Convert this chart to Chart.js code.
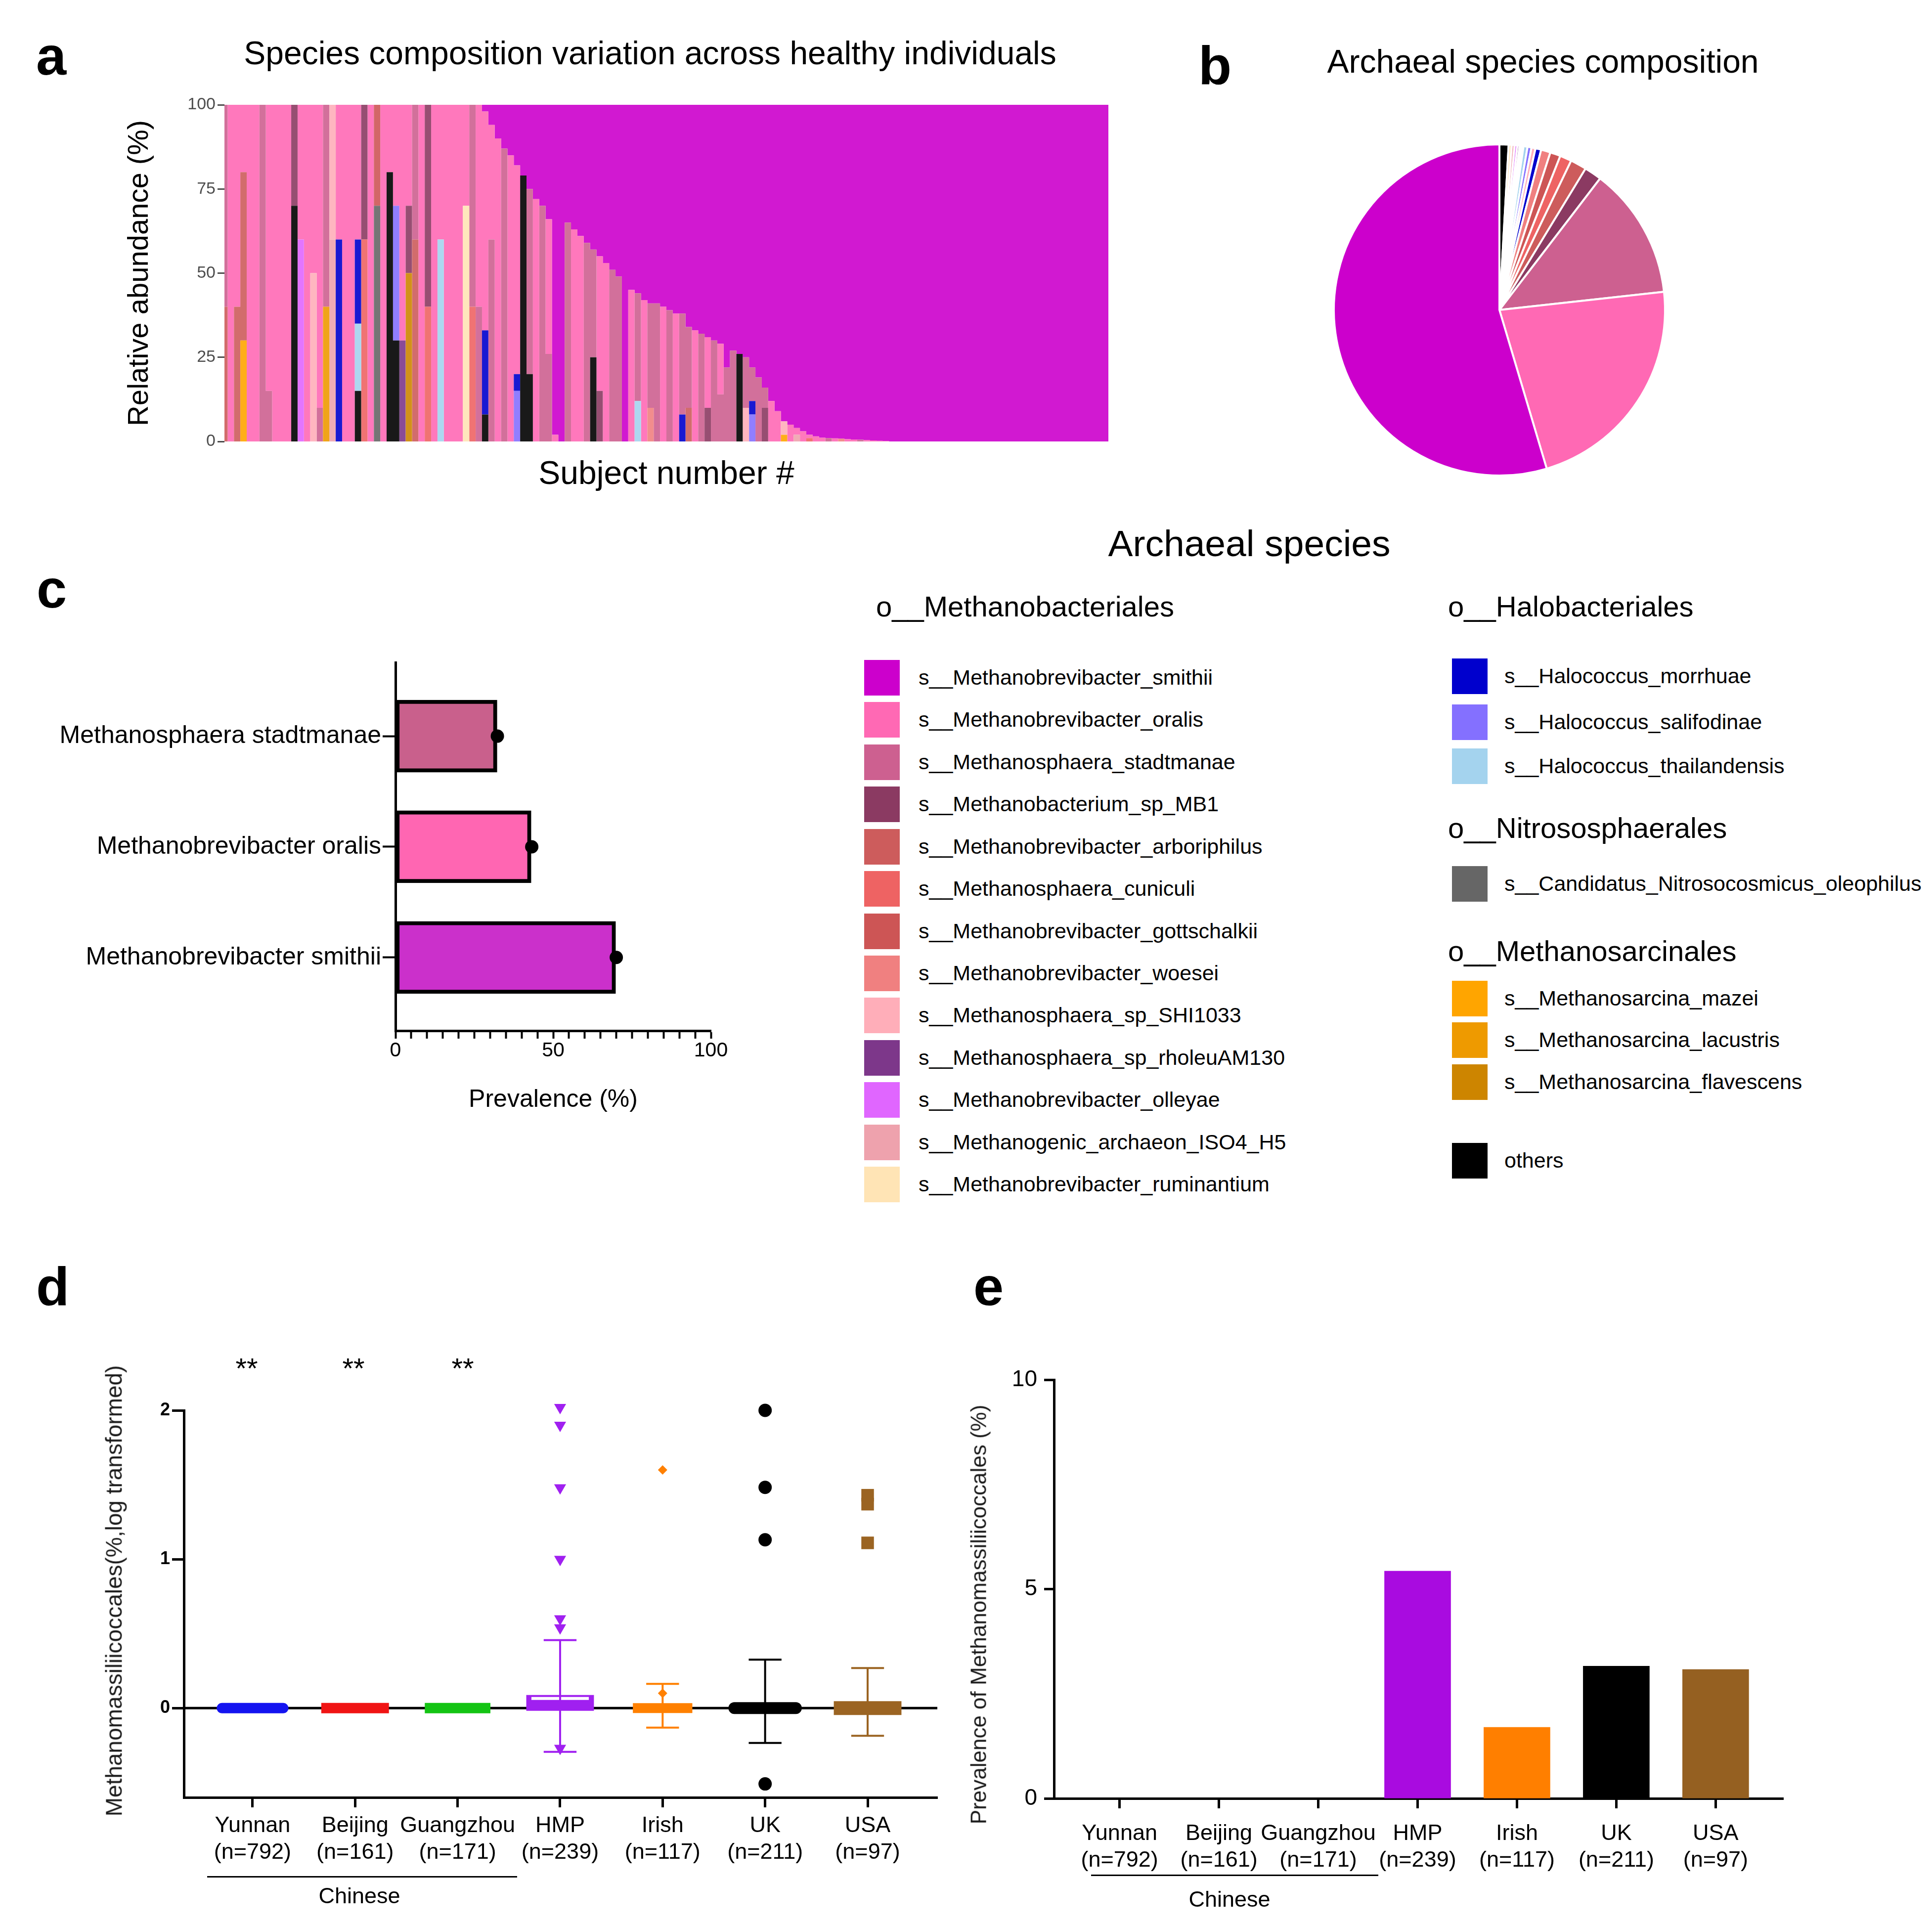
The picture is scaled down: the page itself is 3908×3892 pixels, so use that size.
<!DOCTYPE html>
<html><head><meta charset="utf-8">
<script src="https://cdn.jsdelivr.net/npm/chart.js@4.4.1/dist/chart.umd.min.js"></script>
<style>
html,body{margin:0;padding:0;background:#fff;}
#page{position:relative;width:3908px;height:3892px;overflow:hidden;font-family:'Liberation Sans',Arial,Helvetica,sans-serif;color:#000;background:#fff;}
#page canvas{position:absolute;}
.t{position:absolute;white-space:nowrap;line-height:1.2;}
.sw{position:absolute;}
.ln{position:absolute;background:#000;}
</style></head><body><div id="page">
<canvas id="ca" width="2300" height="1050" style="left:0px;top:0px;width:2300px;height:1050px"></canvas>
<canvas id="cb" width="770" height="770" style="left:2648px;top:242px;width:770px;height:770px"></canvas>
<canvas id="cc" width="1700" height="1250" style="left:0px;top:1100px;width:1700px;height:1250px"></canvas>
<canvas id="cd" width="1950" height="1292" style="left:0px;top:2600px;width:1950px;height:1292px"></canvas>
<canvas id="ce" width="1958" height="1292" style="left:1950px;top:2600px;width:1958px;height:1292px"></canvas>
</div>
<script>
// ---------------- DATA ----------------
// legend species (order as in legend) and their colours
const speciesNames = [
  's__Methanobrevibacter_smithii','s__Methanobrevibacter_oralis','s__Methanosphaera_stadtmanae',
  's__Methanobacterium_sp_MB1','s__Methanobrevibacter_arboriphilus','s__Methanosphaera_cuniculi',
  's__Methanobrevibacter_gottschalkii','s__Methanobrevibacter_woesei','s__Methanosphaera_sp_SHI1033',
  's__Methanosphaera_sp_rholeuAM130','s__Methanobrevibacter_olleyae','s__Methanogenic_archaeon_ISO4_H5',
  's__Methanobrevibacter_ruminantium',
  's__Halococcus_morrhuae','s__Halococcus_salifodinae','s__Halococcus_thailandensis',
  's__Candidatus_Nitrosocosmicus_oleophilus',
  's__Methanosarcina_mazei','s__Methanosarcina_lacustris','s__Methanosarcina_flavescens',
  'others'
];
const speciesColors = [
  '#CC00CC','#FF69B4','#CD6090','#8B3A62','#CD5C5C','#EE6363','#CD5555','#F08080','#FFAEB9',
  '#7D378A','#E066FF','#EEA2AD','#FFE4B5',
  '#0000CD','#8470FF','#A4D3EE',
  '#666666',
  '#FFA500','#EE9A00','#CD8500',
  '#000000'
];
const orderHeaders = ['o__Methanobacteriales','o__Halobacteriales','o__Nitrososphaerales','o__Methanosarcinales'];

// panel a : relative abundance (%) per subject (140 subjects, sorted)
const smithiiAbund = [
  0,0,0,0,0,0,0,0,0,0, 0,0,0,0,0,0,0,0,0,0, 0,0,0,0,0,0,0,0,0,0, 0,0,0,0,0,0,0,0,0,0,
  0,2,6,10,13,15,18,21,25,28, 30,34,98,100,35,37,39,41,43,45, 47,49,51,100,55,56,58,59,59,60,
  61,62,62,66,67,68,69,70,71,78, 73,74,75,78,81,84,88,91,94,95, 96,97,98,98.5,98.9,99,99.1,99.2,99.3,99.4,
  99.5,99.6,99.7,99.8,99.9,100,100,100,100,100, 100,100,100,100,100,100,100,100,100,100,
  100,100,100,100,100,100,100,100,100,100, 100,100,100,100,100,100,100,100,100,100
];
const oralisAbund = [
  0,100,60,20,100,100,0,85,100,100, 100,0,40,100,50,90,0,0,40,100,
  100,40,0,100,0,100,20,30,70,30, 0,100,0,100,40,100,100,100,30,0,
  60,65,34,90,0,85,62,0,0,72, 0,40,2,0,0,63,61,0,0,40,
  53,0,0,0,45,0,42,0,0,40, 0,38,0,0,33,0,21,0,15,0,
  0,0,0,0,0,0,12,9,0,5, 2,3,1,1.5,1.1,0,0.9,0,0.7,0.6,
  0,0.4,0.3,0.2,0.1,0,0,0,0,0, 0,0,0,0,0,0,0,0,0,0,
  0,0,0,0,0,0,0,0,0,0, 0,0,0,0,0,0,0,0,0,0
];
const stadtmanaeAbund = [
  60,0,0,0,0,0,100,15,0,0, 0,0,0,0,0,10,60,0,0,0,
  0,0,0,0,0,0,0,0,0,0, 40,0,0,0,0,0,0,0,0,60,
  40,0,60,0,87,0,0,0,55,0, 70,26,0,0,65,0,0,59,32,0,
  0,51,49,0,0,32,0,31,41,0, 39,0,30,24,0,32,0,30,14,22,
  27,0,15,10,19,6,0,0,0,0, 0,0,0,0,0,1,0,0,0,0,
  0.5,0,0,0,0,0,0,0,0,0, 0,0,0,0,0,0,0,0,0,0,
  0,0,0,0,0,0,0,0,0,0, 0,0,0,0,0,0,0,0,0,0
];
// minor species: [subject index, abundance %]
const othersPts = [[11,70],[21,15],[26,80],[27,30],[41,8],[47,79],[48,20],[58,25],[81,26]];
const mb1Pts = [[11,30],[22,40],[29,20],[32,60],[59,15],[76,10],[85,10]];
const arboriphilusPts = [[0,40],[2,40],[3,50],[30,60],[73,10]];
const cuniculiPts = [[22,60],[32,40],[39,40],[92,1]];
const gottschalkiiPts = [[24,30]];
const woeseiPts = [[67,10],[97,0.8]];
const shi1033Pts = [[14,50],[17,40],[82,10],[88,4]];
const rholeuPts = [[28,30]];
const olleyaePts = [[12,60]];
const iso4Pts = [[17,60],[90,2]];
const ruminantiumPts = [[38,70]];
const morrhuaePts = [[18,60],[21,25],[41,25],[46,5],[72,8],[83,4]];
const salifodinaePts = [[27,40],[46,15],[83,8]];
const thailandensisPts = [[21,20],[34,60],[65,12]];
const nitrosoPts = [[24,70]];
const mazeiPts = [[3,30],[88,2]];
const lacustrisPts = [[16,40]];
const flavescensPts = [[29,50]];
const aTicks = [0,25,50,75,100];

// panel b : pie (%), clockwise from 12 o'clock
const pieSpecies = ['others','s__Methanobrevibacter_ruminantium','s__Methanogenic_archaeon_ISO4_H5',
  's__Methanobrevibacter_olleyae','s__Methanosphaera_sp_rholeuAM130','s__Candidatus_Nitrosocosmicus_oleophilus',
  's__Methanosarcina_flavescens','s__Methanosarcina_lacustris','s__Methanosarcina_mazei',
  's__Halococcus_thailandensis','s__Halococcus_salifodinae','s__Methanosphaera_sp_SHI1033',
  's__Halococcus_morrhuae','s__Methanobrevibacter_woesei','s__Methanobrevibacter_gottschalkii',
  's__Methanosphaera_cuniculi','s__Methanobrevibacter_arboriphilus','s__Methanobacterium_sp_MB1',
  's__Methanosphaera_stadtmanae','s__Methanobrevibacter_oralis','s__Methanobrevibacter_smithii'];
const pieValues = [0.89,0.30,0.28,0.26,0.22,0.18,0.10,0.05,0.05,0.39,0.39,0.39,0.56,0.92,1.01,1.14,1.58,1.69,12.85,22.14,54.61];

// panel c : prevalence (%)
const cSpecies = ['Methanobrevibacter smithii','Methanobrevibacter oralis','Methanosphaera stadtmanae'];
const cPrevalence = [69.8, 43, 32.2];
const cPoints = [70, 43.2, 32.3];
const cColors = ['#CB30CB','#FF66B2','#C9608C'];

// panel d : log-transformed abundance
const cohorts = ['Yunnan','Beijing','Guangzhou','HMP','Irish','UK','USA'];
const cohortN = [792,161,171,239,117,211,97];
const dMean = [0,0,0,0.065,0.016,0.01,0.01];
const dSdLow = [0,0,0,-0.294,-0.131,-0.234,-0.186];
const dSdHigh = [0,0,0,0.457,0.163,0.326,0.269];
const hmpPoints = [2.02,1.9,1.48,1.0,0.6,0.54,-0.27];
const irishPoints = [1.6,0.1];
const ukPoints = [2.0,1.483,1.131,-0.509];
const usaPoints = [1.43,1.37,1.11];
const dSignif = ['**','**','**'];

// panel e : prevalence of Methanomassiliicoccales (%)
const ePrevalence = [0,0,0,5.43,1.7,3.16,3.08];

// ---------------- STYLE / HELPERS ----------------
const FONT = "'Liberation Sans', Arial, Helvetica, sans-serif";
Chart.defaults.font.family = FONT;
Chart.defaults.color = '#000';
Chart.defaults.animation = false;
Chart.defaults.responsive = false;
Chart.defaults.plugins.legend.display = false;
Chart.defaults.plugins.tooltip.enabled = false;

const page = document.getElementById('page');
function addText(text, x, y, size, opts = {}) {
  const d = document.createElement('div');
  d.className = 't';
  d.textContent = text;
  d.style.left = x + 'px';
  d.style.top = y + 'px';
  d.style.fontSize = size + 'px';
  if (opts.bold) d.style.fontWeight = 'bold';
  if (opts.color) d.style.color = opts.color;
  d.style.transform = 'translate(' + (opts.align === 'left' ? '0' : '-50%') + ',-50%)' + (opts.rotate ? ' rotate(-90deg)' : '');
  page.appendChild(d);
}
function addBox(cls, x, y, w, h, color) {
  const d = document.createElement('div');
  d.className = cls;
  d.style.left = x + 'px'; d.style.top = y + 'px';
  d.style.width = w + 'px'; d.style.height = h + 'px';
  if (color) d.style.background = color;
  page.appendChild(d);
}
const colorOf = n => speciesColors[speciesNames.indexOf(n)];
function tint(hex, a) {
  const v = parseInt(hex.slice(1), 16);
  const r = (v >> 16) & 255, g = (v >> 8) & 255, b = v & 255;
  const m = c => Math.round(c * a + 255 * (1 - a));
  return 'rgb(' + m(r) + ',' + m(g) + ',' + m(b) + ')';
}
const N = smithiiAbund.length;
function expand(pts) { const arr = new Array(N).fill(0); pts.forEach(p => { arr[p[0]] = p[1]; }); return arr; }

// ---------------- PANEL A ----------------
const aStack = [
  ['others', expand(othersPts)],
  ['s__Methanosarcina_flavescens', expand(flavescensPts)],
  ['s__Methanosarcina_lacustris', expand(lacustrisPts)],
  ['s__Methanosarcina_mazei', expand(mazeiPts)],
  ['s__Candidatus_Nitrosocosmicus_oleophilus', expand(nitrosoPts)],
  ['s__Halococcus_thailandensis', expand(thailandensisPts)],
  ['s__Halococcus_salifodinae', expand(salifodinaePts)],
  ['s__Halococcus_morrhuae', expand(morrhuaePts)],
  ['s__Methanobrevibacter_ruminantium', expand(ruminantiumPts)],
  ['s__Methanogenic_archaeon_ISO4_H5', expand(iso4Pts)],
  ['s__Methanobrevibacter_olleyae', expand(olleyaePts)],
  ['s__Methanosphaera_sp_rholeuAM130', expand(rholeuPts)],
  ['s__Methanosphaera_sp_SHI1033', expand(shi1033Pts)],
  ['s__Methanobrevibacter_woesei', expand(woeseiPts)],
  ['s__Methanobrevibacter_gottschalkii', expand(gottschalkiiPts)],
  ['s__Methanosphaera_cuniculi', expand(cuniculiPts)],
  ['s__Methanobrevibacter_arboriphilus', expand(arboriphilusPts)],
  ['s__Methanobacterium_sp_MB1', expand(mb1Pts)],
  ['s__Methanosphaera_stadtmanae', stadtmanaeAbund],
  ['s__Methanobrevibacter_oralis', oralisAbund],
  ['s__Methanobrevibacter_smithii', smithiiAbund]
];
new Chart(document.getElementById('ca'), {
  type: 'line',
  data: {
    labels: smithiiAbund.map((_, i) => String(i + 1)),
    datasets: aStack.map((s, k) => ({
      label: s[0], data: s[1],
      backgroundColor: tint(colorOf(s[0]), 0.9),
      fill: k === 0 ? 'origin' : '-1',
      stepped: 'middle',
      borderWidth: 0, pointRadius: 0, tension: 0
    }))
  },
  options: {
    devicePixelRatio: 1,
    layout: { padding: { left: 248, right: 58, top: 212, bottom: 50 } },
    scales: {
      x: { type: 'category', offset: false, grid: { display: false }, border: { display: false },
           ticks: { display: false },
           title: { display: true, text: 'Subject number #', font: { size: 66 }, padding: 0, color: '#000' },
           afterFit: s => { s.height = 107; } },
      y: { stacked: true, min: 0, max: 100,
           afterBuildTicks: s => { s.ticks = aTicks.map(v => ({ value: v })); },
           ticks: { color: '#4D4D4D', font: { size: 34 }, padding: 4 },
           grid: { drawOnChartArea: false, tickLength: 14, tickColor: '#4D4D4D', tickWidth: 3 },
           border: { display: false },
           title: { display: true, text: 'Relative abundance (%)', font: { size: 58 }, padding: 0, color: '#000' },
           afterFit: s => { s.width = 206; } }
    }
  }
});

// ---------------- PANEL B ----------------
new Chart(document.getElementById('cb'), {
  type: 'pie',
  data: { labels: pieSpecies, datasets: [{ data: pieValues, backgroundColor: pieSpecies.map(colorOf), borderColor: '#ffffff', borderWidth: 4 }] },
  options: { devicePixelRatio: 1, layout: { padding: 48 } }
});

// ---------------- PANEL C ----------------
new Chart(document.getElementById('cc'), {
  type: 'bar',
  data: { datasets: [
    { type: 'bar', data: cPrevalence.map((v, i) => ({ x: v, y: i })), backgroundColor: cColors,
      borderColor: '#000', borderWidth: 8, borderSkipped: false, barThickness: 146, order: 2 },
    { type: 'scatter', data: cPoints.map((v, i) => ({ x: v, y: i })), backgroundColor: '#000',
      borderWidth: 0, pointRadius: 13.5, order: 1, clip: false }
  ] },
  options: {
    indexAxis: 'y', devicePixelRatio: 1,
    layout: { padding: { left: 0, right: 262, top: 240, bottom: 95 } },
    scales: {
      x: { type: 'linear', min: 0, max: 100, offset: false,
           ticks: { stepSize: 5, autoSkip: false, maxRotation: 0, font: { size: 41 }, padding: 0,
                    callback: v => (v % 50 === 0 ? String(v) : '') },
           grid: { drawOnChartArea: false, offset: false, tickLength: 16, tickColor: '#000', tickWidth: 4 },
           border: { color: '#000', width: 5 },
           title: { display: true, text: 'Prevalence (%)', font: { size: 50 }, padding: 0 },
           afterFit: s => { s.height = 170; } },
      y: { type: 'linear', min: -0.662, max: 2.666, offset: false,
           ticks: { stepSize: 1, includeBounds: false, autoSkip: false, font: { size: 50 }, padding: 3,
                    callback: v => (cSpecies[v] !== undefined ? cSpecies[v] : '') },
           grid: { drawOnChartArea: false, offset: false, tickLength: 26, tickColor: '#000', tickWidth: 4 },
           border: { color: '#000', width: 5 },
           afterFit: s => { s.width = 800; } }
    }
  }
});

// ---------------- PANEL D ----------------
const dColors = ['#1414F0','#F01414','#14C414','#A020F0','#FF8000','#000000','#9B6422'];
const dMeanColors = ['#1414F0','#F01414','#14C414','#ffffff','#FF8000','#000000','#9B6422'];
const dBand = [21,21,21,32,20,24,28];
const dBandY = [0,0,0,0.035,0,0,0];
const dCap = ['round','butt','butt','butt','butt','round','butt'];
const dSpread = [0.3,0.33,0.32,0.33,0.29,0.3,0.33];
const dOutliers = [[3, hmpPoints, 'triangle', 14, 180], [4, irishPoints, 'rectRot', 9.5, 0],
                   [5, ukPoints, 'circle', 13.5, 0], [6, usaPoints, 'rect', 18, 0]];
const dDatasets = [];
dDatasets.push({ showLine: true, data: [{ x: -0.67, y: 0 }, { x: 6.68, y: 0 }], borderColor: '#000', borderWidth: 5, pointRadius: 0, order: 10 });
cohorts.forEach((g, i) => {
  const c = dColors[i];
  const seg = (pts, w, cap, col, ord) => ({ showLine: true, data: pts, borderColor: col || c, backgroundColor: col || c, borderWidth: w,
                                  borderCapStyle: cap || 'butt', pointRadius: 0, order: ord || 4, clip: false });
  dDatasets.push(seg([{ x: i - dSpread[i], y: dBandY[i] }, { x: i + dSpread[i], y: dBandY[i] }], dBand[i], dCap[i], c, 6));
  if (dSdHigh[i] !== dSdLow[i]) {
    dDatasets.push(seg([{ x: i - 0.28, y: dMean[i] }, { x: i + 0.28, y: dMean[i] }], 6, 'butt', dMeanColors[i], 5));
    dDatasets.push(seg([{ x: i, y: dSdLow[i] }, { x: i, y: dSdHigh[i] }], 4));
    dDatasets.push(seg([{ x: i - 0.16, y: dSdHigh[i] }, { x: i + 0.16, y: dSdHigh[i] }], 4));
    dDatasets.push(seg([{ x: i - 0.16, y: dSdLow[i] }, { x: i + 0.16, y: dSdLow[i] }], 4));
  }
});
dOutliers.forEach(o => {
  dDatasets.push({ data: o[1].map(v => ({ x: o[0], y: v })), pointStyle: o[2], pointRadius: o[3], pointRotation: o[4],
                   backgroundColor: dColors[o[0]], borderColor: dColors[o[0]], borderWidth: 0, order: 1, clip: false });
});
new Chart(document.getElementById('cd'), {
  type: 'scatter',
  data: { datasets: dDatasets },
  options: {
    devicePixelRatio: 1,
    layout: { padding: { left: 203, right: 54, top: 253, bottom: 60 } },
    scales: {
      x: { type: 'linear', min: -0.67, max: 6.68,
           ticks: { stepSize: 1, includeBounds: false, autoSkip: false, maxRotation: 0, font: { size: 45 }, padding: 11,
                    callback: v => (Number.isInteger(v) && cohorts[v] ? [cohorts[v], '(n=' + cohortN[v] + ')'] : '') },
           grid: { drawOnChartArea: false, tickLength: 20, tickColor: '#000', tickWidth: 5 },
           border: { color: '#000', width: 5 },
           afterFit: s => { s.height = 196; } },
      y: { type: 'linear', min: -0.6, max: 2,
           ticks: { stepSize: 1, includeBounds: false, font: { size: 36, weight: 'bold' }, padding: 4 },
           grid: { drawOnChartArea: false, tickLength: 24, tickColor: '#000', tickWidth: 5 },
           border: { color: '#000', width: 5 },
           afterFit: s => { s.width = 169; } }
    }
  }
});

// ---------------- PANEL E ----------------
const eColors = ['#000000','#000000','#000000','#A90BE0','#FF7F00','#000000','#956021'];
new Chart(document.getElementById('ce'), {
  type: 'bar',
  data: { datasets: [{ data: ePrevalence.map((v, i) => ({ x: i, y: v })), backgroundColor: eColors, barThickness: 134, borderWidth: 0 }] },
  options: {
    devicePixelRatio: 1,
    layout: { padding: { left: 2, right: 301, top: 191, bottom: 60 } },
    scales: {
      x: { type: 'linear', min: -0.66, max: 6.68, offset: false,
           ticks: { stepSize: 1, includeBounds: false, autoSkip: false, maxRotation: 0, font: { size: 45 }, padding: 25,
                    callback: v => (Number.isInteger(v) && cohorts[v] ? [cohorts[v], '(n=' + cohortN[v] + ')'] : '') },
           grid: { drawOnChartArea: false, offset: false, tickLength: 20, tickColor: '#000', tickWidth: 5 },
           border: { color: '#000', width: 5 },
           afterFit: s => { s.height = 194; } },
      y: { type: 'linear', min: 0, max: 10,
           ticks: { stepSize: 5, font: { size: 46 }, padding: 14 },
           grid: { drawOnChartArea: false, tickLength: 20, tickColor: '#000', tickWidth: 5 },
           border: { color: '#000', width: 5 },
           afterFit: s => { s.width = 180; } }
    }
  }
});

// ---------------- TEXT / LEGEND ----------------
addText('a', 73, 113, 110, { bold: true, align: 'left' });
addText('b', 2424, 132, 110, { bold: true, align: 'left' });
addText('c', 74, 1191, 110, { bold: true, align: 'left' });
addText('d', 73, 2602, 110, { bold: true, align: 'left' });
addText('e', 1969, 2602, 110, { bold: true, align: 'left' });
addText('Species composition variation across healthy individuals', 1315, 108, 66);
addText('Archaeal species composition', 3121, 125, 66);
addText('Archaeal species', 2527, 1099, 75);
addText('Methanomassiliicoccales(%,log transformed)', 231, 3218, 46, { rotate: true, color: '#1a1a1a' });
addText('Prevalence of Methanomassiliicoccales (%)', 1980, 3266, 44, { rotate: true, color: '#1a1a1a' });

addText(orderHeaders[0], 1772, 1227, 58, { align: 'left' });
addText(orderHeaders[1], 2929, 1227, 58, { align: 'left' });
addText(orderHeaders[2], 2929, 1675, 58, { align: 'left' });
addText(orderHeaders[3], 2929, 1924, 58, { align: 'left' });
const legendRowsY = [1371,1456,1542,1627,1713,1798,1884,1969,2054,2140,2225,2311,2396,
                     1368,1461,1550,1788,2020,2104,2189,2348];
speciesNames.forEach((n, k) => {
  const col2 = k >= 13;
  const sx = col2 ? 2937 : 1748, tx = col2 ? 3043 : 1858;
  const y = legendRowsY[k];
  addBox('sw', sx, y - 36, 72, 72, speciesColors[k]);
  addText(n, tx, y, 43, { align: 'left' });
});

[499, 715, 936].forEach((x, k) => addText(dSignif[k], x, 2768, 58));
addBox('ln', 419, 3795, 627, 3);
addText('Chinese', 727, 3835, 45);
addBox('ln', 2207, 3792, 581, 3);
addText('Chinese', 2487, 3842, 45);
</script>
</body></html>
